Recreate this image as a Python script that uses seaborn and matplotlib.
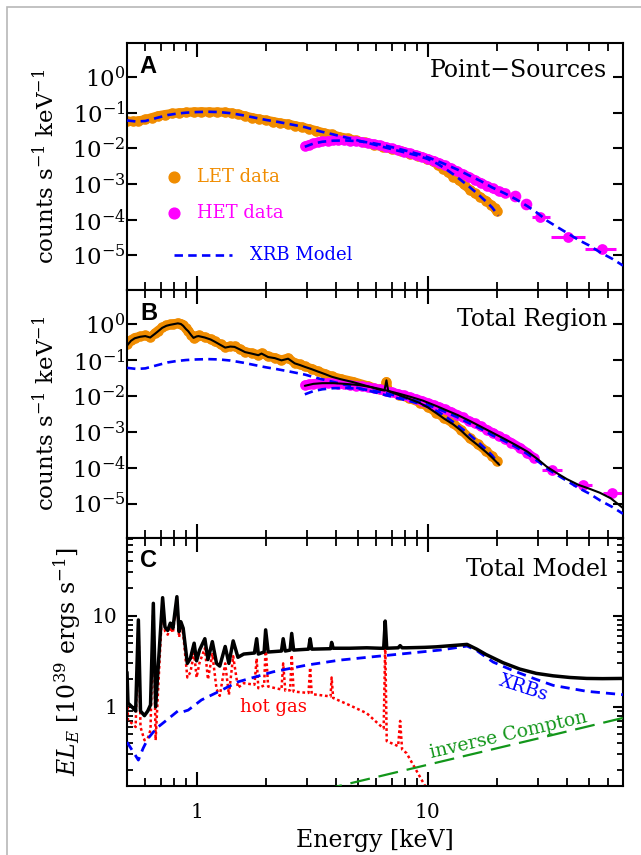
import matplotlib
matplotlib.use("Agg")
import matplotlib.pyplot as plt
import numpy as np
import seaborn as sns
from matplotlib.ticker import FixedLocator, LogLocator, NullLocator, FuncFormatter, NullFormatter
from matplotlib.patches import Rectangle

# ---------------- data ----------------
# Panel A: point sources
let_a_E = [0.50, 0.53, 0.56, 0.60, 0.64, 0.68, 0.73, 0.78, 0.84, 0.90, 0.97, 1.05, 1.13, 1.22,
           1.33, 1.42, 1.51, 1.62, 1.74, 1.86, 2.00, 2.15, 2.30, 2.48, 2.66, 2.86, 3.07, 3.30,
           3.55, 3.84, 4.15, 4.50, 4.90, 5.35, 5.85, 6.40, 7.00, 7.65, 8.35, 9.10, 9.90, 10.5,
           11.1, 11.7, 12.3, 12.9, 13.6, 14.3, 15.2, 16.0, 16.9, 17.9, 18.8, 19.5, 19.9]
let_a = [0.057, 0.057, 0.058, 0.064, 0.072, 0.081, 0.088, 0.094, 0.098, 0.101, 0.104, 0.105,
         0.104, 0.103, 0.102, 0.097, 0.090, 0.080, 0.072, 0.066, 0.061, 0.056, 0.051, 0.048,
         0.043, 0.039, 0.035, 0.031, 0.027, 0.0245, 0.021, 0.019, 0.0165, 0.0145, 0.0125,
         0.0108, 0.0094, 0.0083, 0.0071, 0.0062, 0.0051, 0.0043, 0.0034, 0.0027, 0.0021,
         0.0016, 0.0013, 0.00098, 0.00070, 0.00055, 0.00043, 0.00034, 0.00026, 0.00021, 0.00017]

het_E = [2.94, 3.05, 3.2, 3.35, 3.5, 3.7, 3.9, 4.1, 4.35, 4.6, 4.9, 5.2, 5.5, 5.85, 6.2, 6.6,
         7.0, 7.45, 7.9, 8.4, 8.9, 9.45, 10.0, 10.6, 11.2, 11.9, 12.6, 13.4, 14.2, 15.1, 16.0,
         17.0, 18.0, 19.1, 20.3, 21.6]
het_a = [0.0115, 0.0125, 0.0138, 0.0148, 0.0155, 0.0161, 0.0165, 0.0166, 0.0165, 0.0162,
         0.0157, 0.0150, 0.0142, 0.0132, 0.0122, 0.0110, 0.0099, 0.0090, 0.0081, 0.0072,
         0.0065, 0.0058, 0.0051, 0.0045, 0.0039, 0.0033, 0.0028, 0.0023, 0.0019, 0.0016,
         0.0013, 0.00108, 0.00090, 0.00075, 0.00063, 0.00055]
het_a_tail_E = [23.9, 26.6]
het_a_tail = [0.00047, 0.00028]
het_a_bin_E = [30.6, 40.6, 56.6]
het_a_bin = [1.2e-4, 3.3e-5, 1.56e-5]
het_a_bin_lo = [28.2, 34.0, 47.7]
het_a_bin_hi = [33.8, 47.7, 65.6]

# XRB model folded through the LET and HET responses
xrb_let_E = [0.50, 0.55, 0.60, 0.68, 0.75, 0.82, 0.90, 1.00, 1.12, 1.25, 1.40, 1.60, 1.80,
             2.00, 2.20, 2.50, 2.94, 3.40, 3.84, 4.50, 5.20, 6.00, 7.00, 8.00, 9.00, 10.0,
             11.0, 12.0, 13.0, 14.0, 15.0, 16.5, 18.0, 19.0, 20.2]
xrb_let = [0.060, 0.056, 0.058, 0.072, 0.085, 0.093, 0.099, 0.103, 0.105, 0.103, 0.096, 0.083,
           0.071, 0.062, 0.056, 0.048, 0.039, 0.030, 0.025, 0.0195, 0.0155, 0.0122, 0.0094,
           0.0076, 0.0063, 0.0050, 0.0037, 0.0026, 0.0018, 0.00125, 0.00088, 0.00052, 0.00031,
           0.00022, 0.00013]
xrb_het_E = [2.94, 3.2, 3.5, 3.9, 4.4, 5.0, 5.7, 6.6, 7.5, 8.5, 9.5, 10.9, 12.0, 13.5, 15.2,
             17.0, 19.0, 21.5, 24.0, 27.0, 30.0, 33.0, 36.0, 40.0, 45.0, 50.0, 56.0, 63.0, 70.0]
xrb_het = [0.0110, 0.0135, 0.0152, 0.0163, 0.0165, 0.0158, 0.0142, 0.0118, 0.0096, 0.0078,
           0.0064, 0.0045, 0.0035, 0.0025, 0.0017, 0.0012, 0.00080, 0.00055, 0.00038, 0.00024,
           0.00015, 9.2e-5, 6.5e-5, 4.3e-5, 2.7e-5, 1.9e-5, 1.2e-5, 8.0e-6, 5.2e-6]

# Panel B: total region
let_b_E = [0.50, 0.52, 0.54, 0.57, 0.60, 0.63, 0.66, 0.68, 0.71, 0.74, 0.77, 0.79, 0.83, 0.855,
           0.875, 0.90, 0.92, 0.95, 0.97, 1.00, 1.02, 1.085, 1.15, 1.20, 1.27, 1.33, 1.40, 1.46,
           1.54, 1.62, 1.73, 1.85, 1.91, 2.04, 2.18, 2.33, 2.49, 2.66, 2.80, 2.94, 3.15, 3.36,
           3.60, 3.84, 4.20, 4.76, 5.50, 6.20, 6.50, 6.63, 6.75, 7.50, 8.30, 9.24, 10.0, 10.9,
           11.8, 12.9, 14.0, 15.2, 16.5, 17.9, 19.0, 20.0]
let_b = [0.27, 0.36, 0.42, 0.45, 0.48, 0.43, 0.55, 0.65, 0.80, 0.91, 0.97, 1.00, 1.07, 1.02,
         0.91, 0.75, 0.65, 0.50, 0.42, 0.47, 0.48, 0.43, 0.38, 0.33, 0.27, 0.23, 0.24, 0.24,
         0.20, 0.17, 0.155, 0.14, 0.155, 0.125, 0.115, 0.100, 0.113, 0.082, 0.075, 0.066,
         0.057, 0.048, 0.041, 0.035, 0.030, 0.025, 0.019, 0.0150, 0.0142, 0.025, 0.0137,
         0.0108, 0.0085, 0.0065, 0.0050, 0.0034, 0.0024, 0.0017, 0.0011, 0.00066, 0.00045,
         0.00029, 0.00021, 0.00015]
tot_let_b_E = [0.50, 0.52, 0.54, 0.57, 0.60, 0.63, 0.66, 0.68, 0.71, 0.74, 0.77, 0.79, 0.83,
               0.855, 0.875, 0.90, 0.92, 0.95, 0.97, 1.00, 1.02, 1.085, 1.15, 1.20, 1.27, 1.33,
               1.40, 1.46, 1.54, 1.62, 1.73, 1.85, 1.91, 2.04, 2.18, 2.33, 2.49, 2.66, 2.80,
               2.94, 3.15, 3.36, 3.60, 3.84, 4.20, 4.76, 5.50, 6.20, 6.50, 6.63, 6.75, 7.50,
               8.30, 9.24, 10.0, 10.9, 11.8, 12.9, 14.0, 15.2, 16.5, 17.9, 19.0, 20.4]
tot_let_b = [0.25, 0.34, 0.40, 0.44, 0.46, 0.42, 0.53, 0.62, 0.78, 0.89, 0.95, 0.98, 1.04, 1.0,
             0.89, 0.72, 0.63, 0.48, 0.41, 0.45, 0.46, 0.42, 0.37, 0.32, 0.26, 0.22, 0.235,
             0.23, 0.195, 0.165, 0.15, 0.135, 0.15, 0.12, 0.112, 0.097, 0.108, 0.080, 0.072,
             0.064, 0.055, 0.047, 0.040, 0.034, 0.029, 0.024, 0.0185, 0.0148, 0.0140, 0.027,
             0.0135, 0.0105, 0.0083, 0.0063, 0.0048, 0.0033, 0.0023, 0.0016, 0.00105, 0.00064,
             0.00042, 0.00027, 0.00019, 0.00012]

het_b_E = [2.94, 3.05, 3.2, 3.35, 3.5, 3.7, 3.9, 4.1, 4.35, 4.6, 4.9, 5.2, 5.5, 5.85, 6.2, 6.6,
           7.0, 7.45, 7.9, 8.4, 8.9, 9.45, 10.0, 10.6, 11.2, 11.9, 12.6, 13.4, 14.2, 15.1,
           16.0, 17.0, 18.0, 19.1, 20.3, 21.6, 23.0, 25.1, 27.0, 28.8]
het_b = [0.020, 0.021, 0.022, 0.0225, 0.0228, 0.0228, 0.0225, 0.0220, 0.0212, 0.0203, 0.0193,
         0.0182, 0.0172, 0.0160, 0.0150, 0.0139, 0.0126, 0.0114, 0.0103, 0.0092, 0.0082,
         0.0073, 0.0064, 0.0056, 0.0049, 0.0042, 0.0036, 0.0030, 0.0025, 0.0020, 0.0017,
         0.0014, 0.00115, 0.00094, 0.00076, 0.00062, 0.00050, 0.00036, 0.00026, 0.00019]
het_b_bin_E = [34.4, 46.8, 63.0]
het_b_bin = [8.7e-5, 3.3e-5, 2.0e-5]
het_b_bin_lo = [31.2, 42.6, 57.5]
het_b_bin_hi = [38.0, 51.4, 69.2]
tot_het_b_E = [2.94, 3.2, 3.5, 3.9, 4.4, 5.0, 5.7, 6.6, 7.5, 8.5, 9.5, 10.9, 12.0, 13.5, 15.2,
               17.0, 19.0, 21.5, 24.0, 27.0, 30.0, 32.7, 36.0, 40.0, 45.0, 50.0, 55.6, 62.0, 70.0]
tot_het_b = [0.019, 0.0215, 0.0225, 0.0225, 0.0215, 0.020, 0.0175, 0.0142, 0.0115, 0.0092,
             0.0074, 0.0052, 0.0040, 0.0029, 0.0020, 0.00138, 0.00095, 0.00063, 0.00043,
             0.00028, 0.00017, 0.000107, 7.2e-5, 4.8e-5, 3.3e-5, 2.6e-5, 2.0e-5, 1.4e-5, 7.5e-6]

# Panel C: unfolded model components
hot_E = [0.50, 0.505, 0.525, 0.545, 0.560, 0.572, 0.595, 0.615, 0.632, 0.650, 0.665, 0.713,
         0.730, 0.750, 0.770, 0.790, 0.822, 0.840, 0.855, 0.875, 0.912, 0.940, 0.976, 1.000,
         1.030, 1.086, 1.120, 1.170, 1.220, 1.260, 1.330, 1.380, 1.440, 1.510, 1.600, 1.780,
         1.820, 1.850, 1.960, 1.990, 2.040, 2.330, 2.370, 2.420, 2.540, 2.580, 2.630, 3.050,
         3.100, 3.150, 3.800, 3.840, 3.900, 4.600, 5.450, 6.200, 6.450, 6.550, 6.650, 7.450,
         7.600, 7.750, 8.100, 9.700, 10.30]
hot_gas = [2.0, 0.7, 0.66, 0.6, 8.7, 0.6, 0.43, 0.45, 0.56, 13.2, 0.43, 15.1, 6.8, 6.2, 7.5,
           6.5, 15.3, 5.8, 7.7, 6.4, 2.1, 2.4, 3.9, 2.1, 3.05, 4.4, 2.0, 3.8, 1.57, 1.32, 3.0,
           1.36, 3.6, 1.62, 1.82, 1.75, 3.4, 1.6, 1.72, 4.7, 1.67, 1.55, 3.0, 1.5, 1.52, 3.7,
           1.47, 1.42, 2.7, 1.38, 1.3, 2.1, 1.25, 1.04, 0.85, 0.63, 0.58, 5.0, 0.42, 0.37, 0.70,
           0.34, 0.31, 0.138, 0.11]

xrb_E = [0.50, 0.52, 0.56, 0.587, 0.617, 0.67, 0.74, 0.83, 0.87, 0.92, 1.05, 1.24, 1.51, 2.14,
         2.99, 4.17, 5.81, 8.1, 11.3, 14.8, 16.3, 19.2, 23.4, 29.5, 34.9, 48.8, 70.0]
xrb = [0.41, 0.35, 0.26, 0.35, 0.45, 0.58, 0.71, 0.90, 0.88, 0.92, 1.19, 1.46, 1.88, 2.42,
       2.87, 3.26, 3.55, 3.86, 4.2, 4.65, 4.15, 3.1, 2.5, 2.0, 1.72, 1.48, 1.36]

ic_E = [3.5, 10.0, 30.0, 70.0]
ic = [0.122, 0.231, 0.449, 0.755]

total_E = [0.50, 0.505, 0.525, 0.545, 0.560, 0.572, 0.595, 0.615, 0.632, 0.650, 0.665, 0.713,
           0.730, 0.750, 0.770, 0.790, 0.822, 0.840, 0.855, 0.875, 0.912, 0.940, 0.976, 1.000,
           1.030, 1.086, 1.120, 1.170, 1.220, 1.260, 1.330, 1.380, 1.440, 1.510, 1.600, 1.780,
           1.820, 1.850, 1.960, 1.990, 2.040, 2.330, 2.370, 2.420, 2.540, 2.580, 2.630, 3.050,
           3.100, 3.150, 3.800, 3.840, 3.900, 4.600, 5.450, 6.200, 6.450, 6.550, 6.650, 7.450,
           7.600, 7.750, 8.100, 9.700, 10.90, 12.00, 14.80, 16.30, 17.90, 21.20, 25.00, 29.50,
           34.90, 41.30, 48.80, 57.00, 70.00]
total = [2.4, 1.1, 1.0, 0.9, 9.0, 0.9, 0.8, 0.9, 1.05, 13.7, 1.0, 15.8, 7.5, 6.9, 8.3, 7.3,
         16.2, 6.7, 8.6, 7.3, 3.0, 3.4, 5.0, 3.2, 4.2, 5.6, 3.3, 5.2, 3.0, 2.8, 4.6, 3.0, 5.3,
         3.5, 3.8, 3.9, 5.6, 3.8, 4.0, 7.0, 4.0, 4.1, 5.6, 4.1, 4.2, 6.4, 4.2, 4.3, 5.6, 4.3,
         4.35, 5.1, 4.4, 4.4, 4.45, 4.4, 4.4, 8.75, 4.4, 4.45, 4.7, 4.45, 4.45, 4.5, 4.56,
         4.65, 4.85, 4.3, 3.75, 3.05, 2.6, 2.33, 2.19, 2.1, 2.05, 2.04, 2.05]

# ---------------- style ----------------
sns.set_theme(style="ticks")
plt.rcParams.update({
    "font.family": ["DejaVu Serif"],
    "mathtext.fontset": "dejavuserif",
    "text.color": "black",
    "axes.labelcolor": "black",
    "axes.linewidth": 1.5,
    "axes.edgecolor": "black",
    "axes.facecolor": "white",
    "figure.facecolor": "white",
    "xtick.color": "black",
    "ytick.color": "black",
    "xtick.labelcolor": "black",
    "ytick.labelcolor": "black",
    "lines.solid_capstyle": "round",
})

ORANGE = "#F08C00"
MAGENTA = "#FF00FF"
BLUE = "#0000FF"
RED = "#FF0000"
GREEN = "#12961A"
DASH = (0, (3.2, 2.0))

fig = plt.figure(figsize=(6.41, 8.55), dpi=100)
W, H = 641.0, 855.0
left, width = 127 / W, 496 / W
axA = fig.add_axes([left, 1 - 289.7 / H, width, 247.0 / H])
axB = fig.add_axes([left, 1 - 538.0 / H, width, 248.3 / H])
axC = fig.add_axes([left, 1 - 786.0 / H, width, 248.0 / H])

for ax in (axA, axB, axC):
    ax.set_xscale("log")
    ax.set_yscale("log")


def model(ax, E, v, color, lw, ls="-", z=3):
    sns.lineplot(x=E, y=v, ax=ax, color=color, lw=lw, linestyle=ls, sort=False,
                 estimator=None, legend=False, zorder=z)


def band(ax, E, v, color, z=2):
    sns.lineplot(x=E, y=v, ax=ax, color=color, lw=6.5, sort=False, estimator=None,
                 legend=False, zorder=z)
    sns.scatterplot(x=E, y=v, ax=ax, color=color, s=58, linewidth=0, legend=False, zorder=z)


def binned(ax, E, v, lo, hi, color, z=2):
    ax.errorbar(E, v, xerr=[np.subtract(E, lo), np.subtract(hi, E)], fmt="none",
                ecolor=color, elinewidth=2.2, capsize=0, zorder=z)
    sns.scatterplot(x=E, y=v, ax=ax, color=color, s=60, linewidth=0, legend=False, zorder=z)


# Panel A
band(axA, let_a_E, let_a, ORANGE)
band(axA, het_E, het_a, MAGENTA)
sns.scatterplot(x=het_a_tail_E, y=het_a_tail, ax=axA, color=MAGENTA, s=70, linewidth=0,
                legend=False, zorder=2)
binned(axA, het_a_bin_E, het_a_bin, het_a_bin_lo, het_a_bin_hi, MAGENTA)
model(axA, xrb_let_E, xrb_let, BLUE, 1.9, DASH, 4)
model(axA, xrb_het_E, xrb_het, BLUE, 1.9, DASH, 4)

# Panel B
band(axB, let_b_E, let_b, ORANGE)
band(axB, het_b_E, het_b, MAGENTA)
binned(axB, het_b_bin_E, het_b_bin, het_b_bin_lo, het_b_bin_hi, MAGENTA)
model(axB, xrb_let_E, xrb_let, BLUE, 1.9, DASH, 4)
model(axB, xrb_het_E, xrb_het, BLUE, 1.9, DASH, 4)
model(axB, tot_let_b_E, tot_let_b, "black", 1.5, "-", 5)
model(axB, tot_het_b_E, tot_het_b, "black", 1.5, "-", 5)

# Panel C
model(axC, hot_E, hot_gas, RED, 1.8, (0, (1.1, 1.1)), 2)
model(axC, xrb_E, xrb, BLUE, 2.0, (0, (3.3, 2.2)), 3)
model(axC, ic_E, ic, GREEN, 1.6, (0, (9.0, 4.0)), 3)
model(axC, total_E, total, "black", 2.5, "-", 5)

# ---------------- axes ----------------
def pow10(v, pos):
    return r"$10^{%d}$" % int(round(np.log10(v)))


for ax in (axA, axB, axC):
    ax.set_xlim(0.5, 70)
    ax.set_xlabel("")
    ax.set_ylabel("")
    ax.xaxis.set_major_locator(FixedLocator([1, 10]))
    ax.xaxis.set_minor_locator(FixedLocator([0.6, 0.7, 0.8, 0.9, 2, 3, 4, 5, 6, 7, 8, 9,
                                             20, 30, 40, 50, 60, 70]))
    ax.xaxis.set_minor_formatter(NullFormatter())
    ax.tick_params(which="both", direction="in", top=True, right=True)
    ax.tick_params(axis="x", which="major", length=10, width=1.5)
    ax.tick_params(axis="x", which="minor", length=5.8, width=1.3)
    ax.tick_params(axis="y", which="major", length=7.2, width=1.5)
    ax.tick_params(axis="y", which="minor", length=4.3, width=1.3)
    for s in ax.spines.values():
        s.set_linewidth(1.5)
        s.set_visible(True)

for ax in (axA, axB):
    ax.set_ylim(1.1e-6, 9.0)
    ax.yaxis.set_major_locator(FixedLocator([1e-5, 1e-4, 1e-3, 1e-2, 1e-1, 1e0]))
    ax.yaxis.set_minor_locator(NullLocator())
    ax.yaxis.set_major_formatter(FuncFormatter(pow10))
    ax.tick_params(axis="y", which="major", pad=1.0, labelsize=16.5)
    ax.tick_params(axis="x", labelbottom=False)
    ax.set_ylabel(r"counts s$^{-1}$ keV$^{-1}$", fontsize=16.5)
    ax.yaxis.label.set_va("center")
    ax.yaxis.set_label_coords(-0.165, 0.5)

axC.set_ylim(0.135, 71.5)
axC.yaxis.set_major_locator(FixedLocator([1, 10]))
axC.yaxis.set_major_formatter(FuncFormatter(lambda v, p: "%d" % int(round(v))))
axC.yaxis.set_minor_locator(LogLocator(base=10, subs=np.arange(2, 10), numticks=20))
axC.yaxis.set_minor_formatter(NullFormatter())
axC.tick_params(axis="y", which="major", pad=7.0, labelsize=14.5)
axC.xaxis.set_major_formatter(FuncFormatter(lambda v, p: "%d" % int(round(v))))
axC.tick_params(axis="x", which="major", labelsize=14.5, pad=12.5)
axC.set_ylabel(r"$EL_E$ [10$^{39}$ ergs s$^{-1}$]", fontsize=17)
axC.yaxis.label.set_va("center")
axC.yaxis.set_label_coords(-0.121, 0.5)
axC.set_xlabel("Energy [keV]", fontsize=17)
axC.xaxis.label.set_va("baseline")
axC.xaxis.set_label_coords(0.5, -0.245)

# ---------------- annotations ----------------
letter_kw = dict(fontsize=17, fontweight="bold", family=["Liberation Sans", "DejaVu Sans"],
                 ha="left", va="baseline", color="black")
axA.text(0.026, 0.879, "A", transform=axA.transAxes, **letter_kw)
axB.text(0.026, 0.878, "B", transform=axB.transAxes, **letter_kw)
axC.text(0.026, 0.882, "C", transform=axC.transAxes, **letter_kw)

title_kw = dict(fontsize=17, ha="right", va="baseline", color="black")
axA.text(0.968, 0.862, "Point\u2212Sources", transform=axA.transAxes, **title_kw)
axB.text(0.968, 0.855, "Total Region", transform=axB.transAxes, **title_kw)
axC.text(0.968, 0.847, "Total Model", transform=axC.transAxes, **title_kw)

# key for panel A
axA.scatter([0.0948], [0.4575], s=60, color=ORANGE, transform=axA.transAxes, zorder=6)
axA.scatter([0.0948], [0.3105], s=60, color=MAGENTA, transform=axA.transAxes, zorder=6)
axA.plot([0.0948, 0.2117], [0.1405, 0.1405], color=BLUE, lw=1.9, linestyle=DASH,
         transform=axA.transAxes, zorder=6)
axA.text(0.141, 0.4575, "LET data", color=ORANGE, fontsize=13, ha="left", va="center",
         transform=axA.transAxes)
axA.text(0.141, 0.3105, "HET data", color=MAGENTA, fontsize=13, ha="left", va="center",
         transform=axA.transAxes)
axA.text(0.248, 0.1405, "XRB Model", color=BLUE, fontsize=13, ha="left", va="center",
         transform=axA.transAxes)

axC.text(2.16, 1.0, "hot gas", color=RED, fontsize=13, ha="center", va="center")
axC.text(26.0, 1.62, "XRBs", color=BLUE, fontsize=13.5, ha="center", va="center",
         rotation=-18, rotation_mode="anchor")
axC.text(22.3, 0.489, "inverse Compton", color=GREEN, fontsize=13.5, ha="center",
         va="center", rotation=13, rotation_mode="anchor")

# thin page frame
fig.patches.append(Rectangle((7 / W, -1.0), 5.0, 2.0 - 7 / H, transform=fig.transFigure,
                             fill=False, edgecolor="#B8B8B8", lw=1.2, zorder=0))

fig.savefig("out.png", dpi=100)
